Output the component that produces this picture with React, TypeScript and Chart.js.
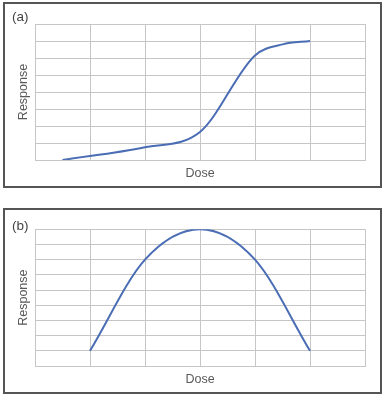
import React, { useEffect, useRef } from "react";
import { Chart, registerables } from "chart.js";

Chart.register(...registerables);

// Panel (a): sigmoid dose-response
const doseA = [0.5, 2, 3, 4, 4.5, 5];
const responseA = [0, 0.75, 1.65, 6.15, 6.8, 7.0];
// Panel (b): bell-shaped dose-response
const doseB = [1, 2, 3, 4, 5];
const responseB = [1, 7, 9, 7, 1];

const xTitle = "Dose";
const yTitle = "Response";

const FONT = '"Liberation Sans", Arial, sans-serif';

const panelLabel = {
  id: "panelLabel",
  afterDraw(chart: any, _args: any, opts: any) {
    const ctx = chart.ctx;
    ctx.save();
    ctx.font = `13.5px ${FONT}`;
    ctx.fillStyle = "#444444";
    ctx.textBaseline = "middle";
    ctx.textAlign = "left";
    ctx.fillText(opts.text, opts.x, opts.y);
    ctx.restore();
  },
};

type PanelProps = {
  top: number;
  label: string;
  labelY: number;
  dose: number[];
  response: number[];
  yMax: number;
  areaTop: number;
};

function Panel({ top, label, labelY, dose, response, yMax, areaTop }: PanelProps) {
  const ref = useRef<HTMLCanvasElement>(null);
  useEffect(() => {
    if (!ref.current) return;
    const grid = { color: "#c6c6c6", lineWidth: 1, drawTicks: false };
    const titleFont = { family: FONT, size: 12.5, lineHeight: 1.2 };
    const chart = new Chart(ref.current, {
      type: "line",
      data: {
        datasets: [
          {
            data: dose.map((d, i) => ({ x: d, y: response[i] })),
            borderColor: "#4a6db4",
            borderWidth: 2,
            pointRadius: 0,
            cubicInterpolationMode: "monotone",
            fill: false,
          },
        ],
      },
      options: {
        animation: false,
        responsive: false,
        maintainAspectRatio: false,
        layout: { padding: { top: areaTop, right: 14, left: 11.5, bottom: 0 } },
        plugins: {
          legend: { display: false },
          tooltip: { enabled: false },
          panelLabel: { text: label, x: 7, y: labelY },
        } as any,
        scales: {
          x: {
            type: "linear",
            min: 0,
            max: 6,
            ticks: { display: false, stepSize: 1 },
            grid,
            border: { color: "#c6c6c6" },
            title: {
              display: true,
              text: xTitle,
              color: "#595959",
              font: titleFont,
              padding: { top: 6.5, bottom: 4.5 },
            },
          },
          y: {
            min: 0,
            max: yMax,
            ticks: { display: false, stepSize: 1 },
            grid,
            border: { color: "#c6c6c6" },
            title: {
              display: true,
              text: yTitle,
              color: "#595959",
              font: titleFont,
              padding: { top: 0, bottom: 3.5 },
            },
          },
        },
      },
      plugins: [panelLabel],
    });
    return () => chart.destroy();
  }, []);

  return (
    <div
      style={{
        position: "absolute",
        left: 3,
        top,
        width: 379,
        height: 186,
        boxSizing: "border-box",
        border: "2px solid #555555",
        background: "#ffffff",
      }}
    >
      <canvas ref={ref} width={374} height={182} style={{ display: "block", width: 374, height: 182 }} />
    </div>
  );
}

export default function App() {
  return (
    <div style={{ position: "absolute", left: 0, top: 0, width: 387, height: 399, background: "#ffffff" }}>
      <Panel top={2} label="(a)" labelY={13.5} dose={doseA} response={responseA} yMax={8} areaTop={20} />
      <Panel top={208} label="(b)" labelY={16.7} dose={doseB} response={responseB} yMax={9} areaTop={19.3} />
    </div>
  );
}
